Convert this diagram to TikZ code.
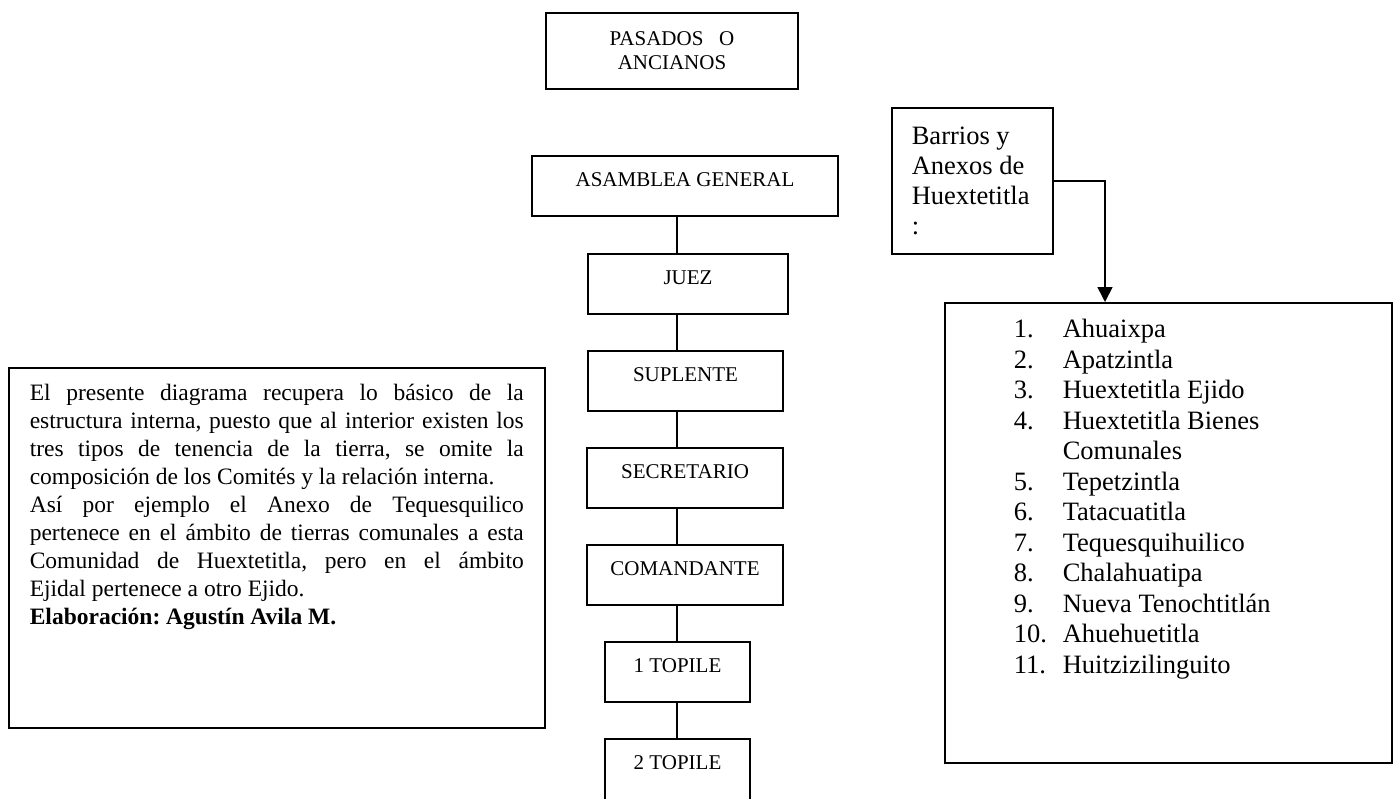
\documentclass[tikz,border=0pt]{standalone}
\usepackage{fontspec}
\setmainfont{Liberation Serif}
\usepackage{tikz}
\usetikzlibrary{arrows.meta}
\frenchspacing

\begin{document}
\begin{tikzpicture}[x=1pt, y=-1pt,
  caja/.style={draw, line width=1.6pt, inner sep=0pt},
  cargo/.style={caja, anchor=north, font=\fontsize{21}{24}\selectfont, text height=31pt, text depth=29pt, minimum height=60pt},
  enlace/.style={line width=1.6pt},
  flecha/.style={line width=1.6pt, -{Triangle[length=15pt, width=15pt]}}]
  \useasboundingbox (0,0) rectangle (1397,798);

  \node[caja, anchor=north, minimum width=252pt, minimum height=76pt, align=center, font=\fontsize{21}{24}\selectfont] (pasados) at (672,12) {PASADOS\ \ \ O\\ANCIANOS};

  \node[cargo, minimum width=306pt] (asamblea) at (685,155) {ASAMBLEA GENERAL};
  \node[cargo, minimum width=200pt] (juez) at (688,253) {JUEZ};
  \node[cargo, minimum width=195pt] (suplente) at (685.5,350) {SUPLENTE};
  \node[cargo, minimum width=196pt] (secretario) at (685,447) {SECRETARIO};
  \node[cargo, minimum width=196pt] (comandante) at (685,544) {COMANDANTE};
  \node[cargo, minimum width=145pt] (topileA) at (677.5,641) {1 TOPILE};
  \node[cargo, minimum width=145pt, text depth=45pt] (topileB) at (677.5,738) {2 TOPILE};

  \coordinate (eje) at (677,0);
  \foreach \a/\b in {asamblea/juez, juez/suplente, suplente/secretario, secretario/comandante, comandante/topileA, topileA/topileB}
    \draw[enlace] (\a.south -| eje) -- (\b.north -| eje);

  \node[caja, anchor=north west, inner xsep=21pt, text height=33pt, text depth=327pt, font=\fontsize{23.5}{28}\selectfont] (nota) at (8,367) {\parbox[t]{494pt}{\tolerance=9999 \hyphenpenalty=10000
    El presente diagrama recupera lo básico de la\linebreak
    estructura interna, puesto que al interior existen los\linebreak
    tres tipos de tenencia de la tierra, se omite la\linebreak
    composición de los Comités y la relación interna.\par
    Así por ejemplo el Anexo de Tequesquilico\linebreak
    pertenece en el ámbito de tierras comunales a esta\linebreak
    Comunidad de Huextetitla, pero en el ámbito\linebreak
    Ejidal pertenece a otro Ejido.\par
    \textbf{Elaboración: Agustín Avila M.}}};

  \node[caja, anchor=north west, inner xsep=20pt, text height=37pt, text depth=109pt, font=\fontsize{26.5}{30}\selectfont] (barrios) at (891,107) {\parbox[t]{121pt}{\raggedright Barrios y\\Anexos de\\Huextetitla\\:}};

  \node[caja, anchor=north west, text height=35pt, text depth=425pt, font=\fontsize{26.5}{30.5}\selectfont] (anexos) at (944,302) {\makebox[447pt][l]{\hspace*{69pt}\begin{tabular}[t]{@{}p{49pt}@{}l@{}}
    1. & Ahuaixpa\\
    2. & Apatzintla\\
    3. & Huextetitla Ejido\\
    4. & Huextetitla Bienes\\
       & Comunales\\
    5. & Tepetzintla\\
    6. & Tatacuatitla\\
    7. & Tequesquihuilico\\
    8. & Chalahuatipa\\
    9. & Nueva Tenochtitlán\\
    10. & Ahuehuetitla\\
    11. & Huitzizilinguito
  \end{tabular}}};

  \coordinate (bajada) at (1105,0);
  \draw[flecha] (barrios.east) -| (anexos.north -| bajada);
\end{tikzpicture}
\end{document}
